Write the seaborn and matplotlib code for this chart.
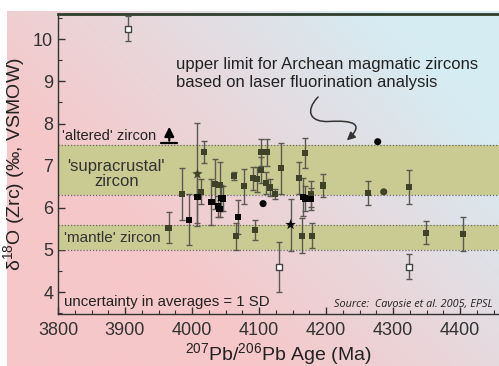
import numpy as np
import pandas as pd
import seaborn as sns
import matplotlib.pyplot as plt
from matplotlib.path import Path
from matplotlib.patches import FancyArrowPatch

# olive (dark) squares: age (Ma), d18O, 1 SD
olive_age = [3965, 3985, 4013, 4018, 4034, 4041, 4063, 4066, 4078, 4091, 4094, 4097,
             4103, 4103, 4110, 4112, 4116, 4124, 4133, 4159, 4164, 4168, 4178, 4179,
             4195, 4263, 4324, 4349, 4404]
olive_d18o = [5.53, 6.32, 6.38, 7.33, 6.57, 6.54, 6.76, 5.33, 6.51, 6.70, 5.47, 6.68,
              7.32, 6.90, 6.59, 7.32, 6.48, 6.33, 6.94, 6.71, 5.34, 7.30, 6.33, 5.34,
              6.53, 6.35, 6.49, 5.41, 5.38]
olive_err = [0.36, 0.62, 0.30, 0.26, 0.60, 0.55, 0.10, 0.32, 0.41, 0.28, 0.23, 0.30,
             0.32, 0.30, 0.27, 0.32, 0.20, 0.12, 0.61, 0.38, 0.42, 0.35, 0.30, 0.29,
             0.28, 0.28, 0.40, 0.28, 0.40]

# black squares
black_age = [3996, 4008, 4029, 4039, 4041, 4043, 4046, 4069, 4165, 4168, 4177]
black_d18o = [5.72, 6.25, 6.14, 6.04, 5.98, 6.23, 6.22, 5.78, 6.26, 6.22, 6.21]
black_err = [0.60, 0.60, 0.55, 0.25, 0.20, 0.30, 0.30, 0.40, 0.45, 0.30, 0.25]

# circles without error bars
circle_age = [4106, 4277, 4286]
circle_d18o = [6.10, 7.57, 6.38]
circle_kind = ['black', 'black', 'olive']

# stars
star_age = [4008, 4147]
star_d18o = [6.80, 5.60]
star_err = [1.22, 0.62]
star_kind = ['olive', 'black']

# open squares
open_age = [3904, 4130, 4324]
open_d18o = [10.25, 4.60, 4.60]
open_err = [0.30, 0.60, 0.30]

supra_band = (6.3, 7.5)
mantle_band = (5.0, 5.6)

olive_col = '#3f4128'
bar_col = '#5a5a52'
band_col = '#cacb92'

sns.set_style('ticks')
plt.rcParams['font.family'] = ['Liberation Sans', 'DejaVu Sans']
plt.rcParams['mathtext.fontset'] = 'custom'
plt.rcParams['mathtext.rm'] = 'Liberation Sans'
plt.rcParams['mathtext.default'] = 'regular'

fig = plt.figure(figsize=(4.99, 3.66), dpi=100)
fig.patch.set_facecolor('white')

# background gradient (pink lower-left -> light blue upper-right)
bg = fig.add_axes([7 / 499, 0, 492 / 499, 355 / 366], zorder=-10)
gx, gy = np.meshgrid(np.linspace(0, 1, 200), np.linspace(0, 1, 150))
t = np.clip(1.05 * gx + 0.75 * gy - 0.55, 0, 1)[..., None]
pink = np.array([246, 199, 201]) / 255
blue = np.array([214, 236, 243]) / 255
bg.imshow(pink * (1 - t) + blue * t, origin='lower', aspect='auto', extent=[0, 1, 0, 1])
bg.axis('off')

ax = fig.add_axes([58 / 499, 52 / 366, 441 / 499, 300 / 366])
ax.patch.set_alpha(0)

for lo, hi in (supra_band, mantle_band):
    ax.axhspan(lo, hi, color=band_col, zorder=1, lw=0)
    for v in (lo, hi):
        ax.axhline(v, color='#6a6a6a', lw=0.9, ls=(0, (1, 1.5)), zorder=2)

# error bars
ekw = dict(fmt='none', ecolor=bar_col, elinewidth=1, capsize=2.5, capthick=1, zorder=3)
ax.errorbar(olive_age, olive_d18o, yerr=olive_err, **ekw)
ax.errorbar(black_age, black_d18o, yerr=black_err, **ekw)
ax.errorbar(star_age, star_d18o, yerr=star_err, **ekw)
ax.errorbar(open_age, open_d18o, yerr=open_err, **ekw)

sq = pd.DataFrame({'age': olive_age + black_age,
                   'd18o': olive_d18o + black_d18o,
                   'kind': ['olive'] * len(olive_age) + ['black'] * len(black_age)})
pal = {'olive': olive_col, 'black': '#050505'}
sns.scatterplot(data=sq, x='age', y='d18o', hue='kind', palette=pal, marker='s', s=20,
                linewidth=0, legend=False, ax=ax, zorder=4)
circ = pd.DataFrame({'age': circle_age, 'd18o': circle_d18o, 'kind': circle_kind})
sns.scatterplot(data=circ, x='age', y='d18o', hue='kind', palette=pal, marker='o', s=26,
                linewidth=0, legend=False, ax=ax, zorder=4)
st = pd.DataFrame({'age': star_age, 'd18o': star_d18o, 'kind': star_kind})
sns.scatterplot(data=st, x='age', y='d18o', hue='kind', palette=pal, marker='*', s=65,
                linewidth=0, legend=False, ax=ax, zorder=4)
sns.scatterplot(x=open_age, y=open_d18o, marker='s', s=18, color='white',
                edgecolor='#444444', linewidth=1, ax=ax, zorder=5)

ax.set_xlim(3800, 4458)
ax.set_ylim(3.48, 10.6)
ax.set_xticks([3800, 3900, 4000, 4100, 4200, 4300, 4400])
ax.set_xticks(np.arange(3800, 4460, 25), minor=True)
ax.set_yticks([4, 5, 6, 7, 8, 9, 10])
ax.set_yticks(np.arange(3.5, 10.6, 0.5), minor=True)
ax.tick_params(which='both', direction='in', colors='#333333', labelsize=13)
ax.tick_params(which='major', length=5, width=1)
ax.tick_params(which='minor', length=3, width=0.8)
ax.tick_params(axis='x', pad=6)

for s in ('left', 'bottom'):
    ax.spines[s].set_color('#333333')
    ax.spines[s].set_linewidth(1)
ax.spines['top'].set_visible(True)
ax.spines['top'].set_color('#2f3d2c')
ax.spines['top'].set_linewidth(2)
ax.spines['right'].set_visible(False)

ax.set_xlabel('$^{207}$Pb/$^{206}$Pb Age (Ma)', fontsize=14, color='#222222', labelpad=1)
ax.set_ylabel('δ$^{18}$O (Zrc) (‰, VSMOW)', fontsize=14, color='#222222', labelpad=4)

tc = '#222222'
ax.text(3976, 9.19, 'upper limit for Archean magmatic zircons\nbased on laser fluorination analysis',
        fontsize=12, color=tc, va='center', ha='left', linespacing=1.25)
ax.text(3806, 7.71, "'altered' zircon", fontsize=10.5, color=tc, va='center')
ax.text(3887, 6.80, "'supracrustal'\nzircon", fontsize=12, color='#333333', va='center',
        ha='center', linespacing=1.05)
ax.text(3809, 5.28, "'mantle' zircon", fontsize=11, color='#333333', va='center')
ax.text(3809, 3.77, 'uncertainty in averages = 1 SD', fontsize=10.8, color=tc, va='center')
ax.text(4448, 3.71, 'Source:  Cavosie et al. 2005, EPSL', fontsize=7.8, style='italic',
        color=tc, va='center', ha='right', family=['Open Sans', 'DejaVu Sans'])

# 'altered' arrow on a bar
ax.plot([3954, 3977], [7.53, 7.53], color='black', lw=1.6, zorder=6)
ax.annotate('', xy=(3966, 7.99), xytext=(3966, 7.53),
            arrowprops=dict(arrowstyle='-|>', color='black', lw=1.6, mutation_scale=14))

# curvy arrow
verts = [(4188, 8.63), (4168, 8.30), (4176, 8.02), (4205, 8.05),
         (4240, 8.08), (4258, 8.00), (4231, 7.60)]
codes = [Path.MOVETO] + [Path.CURVE4] * 6
arr = FancyArrowPatch(path=Path(verts, codes), arrowstyle='-|>', mutation_scale=12,
                      color='#333333', lw=1.1, zorder=6)
ax.add_patch(arr)

fig.savefig('out.png', dpi=100)
